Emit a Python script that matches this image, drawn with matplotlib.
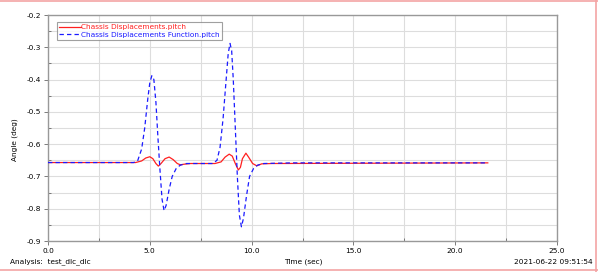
import matplotlib
matplotlib.use("Agg")
import matplotlib.pyplot as plt
from matplotlib.lines import Line2D
from matplotlib.ticker import MultipleLocator, FormatStrFormatter

# ---- data ----
t_blue = [0.0, 4.2, 4.4, 4.6, 4.75, 4.9, 5.0, 5.1, 5.2, 5.3, 5.4, 5.5, 5.6, 5.7,
          5.8, 5.95, 6.1, 6.3, 6.5, 6.8, 8.1, 8.3, 8.45, 8.6, 8.75, 8.85, 8.94,
          9.02, 9.1, 9.2, 9.3, 9.4, 9.5, 9.6, 9.75, 9.9, 10.1, 10.3, 10.6, 12.0, 21.6]
y_blue = [-0.657, -0.657, -0.652, -0.615, -0.55, -0.46, -0.41, -0.388, -0.40, -0.47,
          -0.58, -0.68, -0.77, -0.806, -0.79, -0.74, -0.70, -0.675, -0.665, -0.66,
          -0.66, -0.65, -0.61, -0.52, -0.40, -0.32, -0.288, -0.31, -0.40, -0.55,
          -0.70, -0.82, -0.856, -0.83, -0.76, -0.70, -0.675, -0.665, -0.66, -0.658, -0.658]

t_red = [0.0, 4.3, 4.6, 4.8, 5.0, 5.15, 5.3, 5.42, 5.55, 5.75, 5.95, 6.15, 6.35,
         6.5, 6.7, 7.0, 8.2, 8.5, 8.7, 8.9, 9.05, 9.2, 9.35, 9.45, 9.55, 9.72,
         9.85, 10.05, 10.25, 10.5, 11.0, 21.6]
y_red = [-0.657, -0.657, -0.652, -0.643, -0.639, -0.645, -0.66, -0.668, -0.66,
         -0.645, -0.640, -0.648, -0.66, -0.664, -0.662, -0.660, -0.660, -0.655,
         -0.64, -0.631, -0.637, -0.66, -0.68, -0.672, -0.645, -0.628, -0.64,
         -0.66, -0.667, -0.661, -0.660, -0.658]

series_names = ["Chassis Displacements.pitch", "Chassis Displacements Function.pitch"]
x_ticks = [0.0, 5.0, 10.0, 15.0, 20.0, 25.0]
y_ticks = [-0.9, -0.8, -0.7, -0.6, -0.5, -0.4, -0.3, -0.2]

FS = 5.3

fig = plt.figure(figsize=(5.98, 2.72), dpi=100)
ax = fig.add_axes([48/598, 1-241/272, (557-48)/598, (241-15)/272])

ax.plot(t_red, y_red, color="#ff2020", lw=0.9, label=series_names[0], zorder=3)
ax.plot(t_blue, y_blue, color="#1a1aff", lw=0.9, ls=(0, (3.5, 2.5)),
        label=series_names[1], zorder=4)

ax.set_xlim(0, 25)
ax.set_ylim(-0.9, -0.2)
ax.set_xticks(x_ticks)
ax.set_yticks(y_ticks)
ax.xaxis.set_major_formatter(FormatStrFormatter("%.1f"))
ax.yaxis.set_major_formatter(FormatStrFormatter("%.1f"))
ax.xaxis.set_minor_locator(MultipleLocator(2.5))
ax.yaxis.set_minor_locator(MultipleLocator(0.05))
ax.grid(True, which="both", color="#dddddd", lw=0.8)
ax.set_axisbelow(True)
ax.tick_params(which="major", labelsize=FS, length=3, width=0.6, color="#666666", pad=2)
ax.tick_params(which="minor", length=2, width=0.6, color="#666666", direction="in")
for s in ax.spines.values():
    s.set_color("#999999")
    s.set_linewidth(1.0)

fig.text(15/598, 1-140/272, "Angle (deg)", fontsize=FS, rotation=90,
         va="center", ha="center")

leg = ax.legend(loc="upper left", bbox_to_anchor=(9/509, 1-7/226), fontsize=FS,
                frameon=True, fancybox=False, edgecolor="#888888", borderpad=0.3,
                handlelength=2.9, handletextpad=0.05, labelspacing=0.2,
                borderaxespad=0.0)
leg.get_frame().set_linewidth(0.8)
for txt, c in zip(leg.get_texts(), ["#ff2020", "#1a1aff"]):
    txt.set_color(c)

fig.text(10/598, 1-262/272, "Analysis:  test_dlc_dlc", fontsize=FS, va="center", ha="left")
fig.text(303/598, 1-262/272, "Time (sec)", fontsize=FS, va="center", ha="center")
fig.text(593/598, 1-262/272, "2021-06-22 09:51:54", fontsize=FS, va="center", ha="right")

# pink frame
pk = "#f4a4a4"
fig.add_artist(Line2D([0, 1], [0.998, 0.998], transform=fig.transFigure, color=pk, lw=1.2))
fig.add_artist(Line2D([0, 1], [1-270/272, 1-270/272], transform=fig.transFigure, color=pk, lw=1.2))
fig.add_artist(Line2D([596/598, 596/598], [0, 1], transform=fig.transFigure, color=pk, lw=1.2))

fig.savefig("out.png", dpi=100)
